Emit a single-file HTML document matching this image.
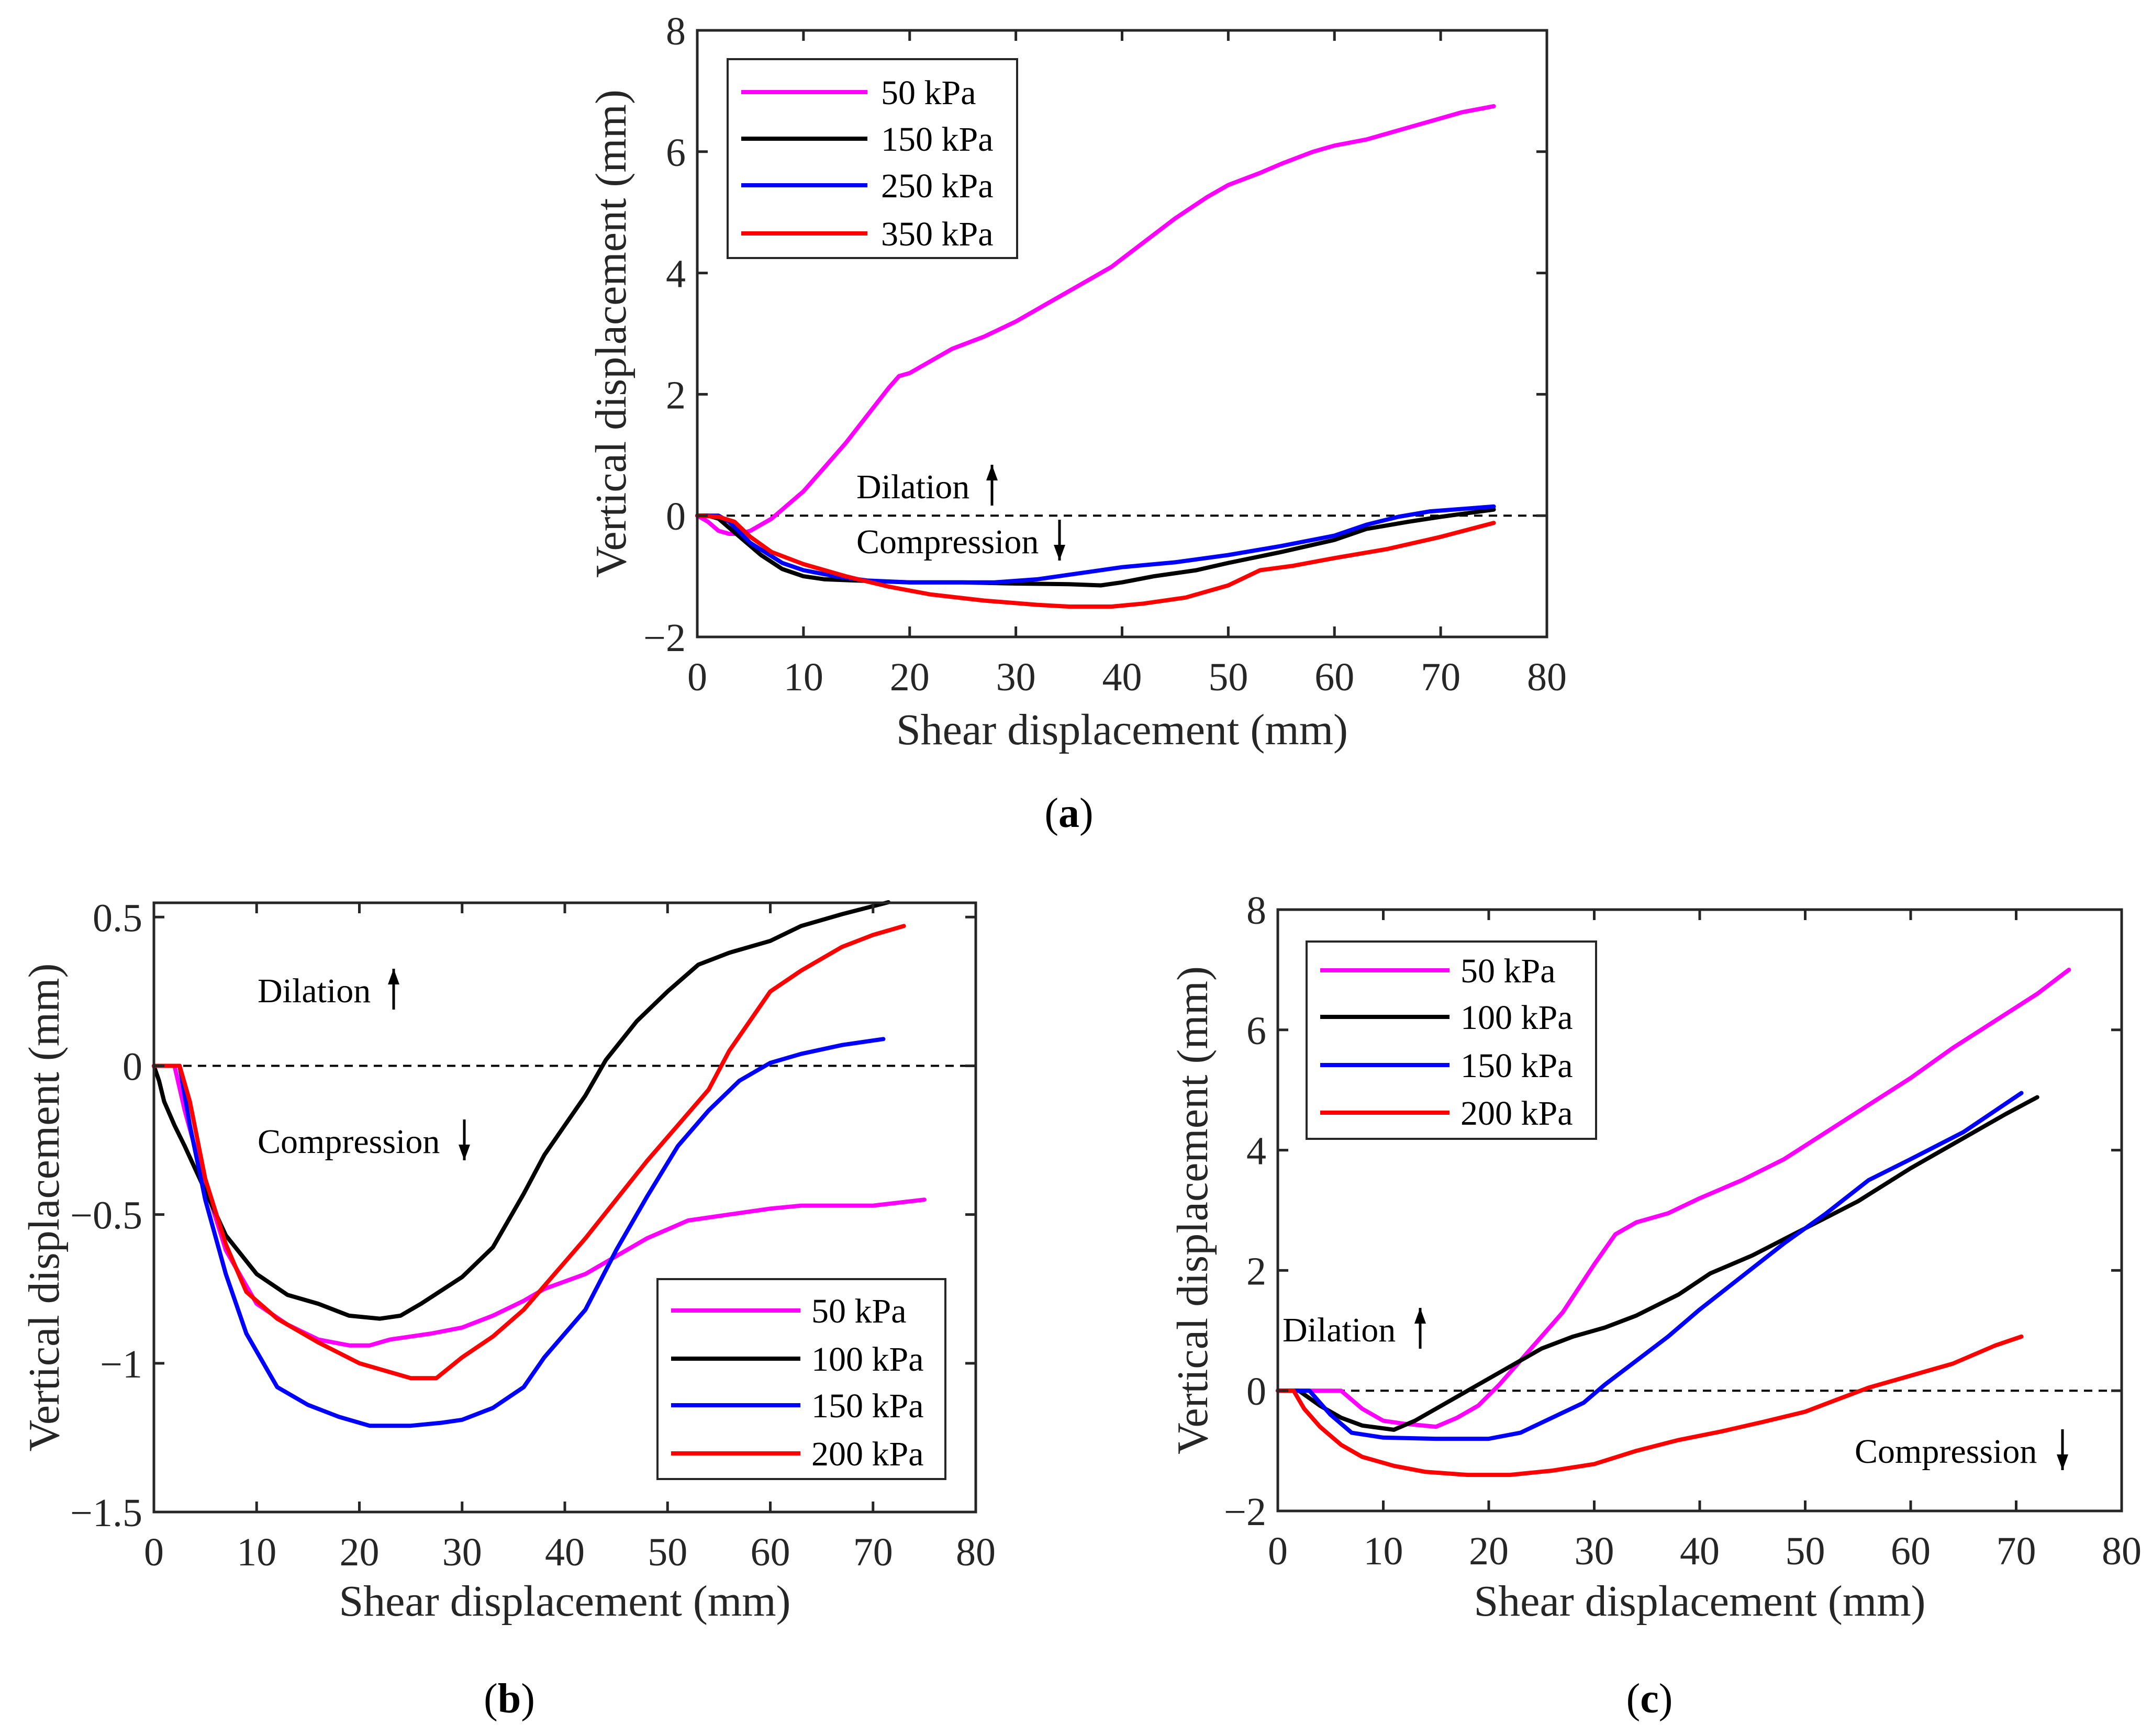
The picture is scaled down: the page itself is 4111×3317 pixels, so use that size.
<!DOCTYPE html>
<html><head><meta charset="utf-8"><style>
html,body{margin:0;padding:0;background:#fff;}
svg{display:block;font-family:"Liberation Serif",serif;}
</style></head><body>
<svg id="fig" width="4111" height="3317" viewBox="0 0 4111 3317" xmlns="http://www.w3.org/2000/svg">
<rect width="4111" height="3317" fill="#fff"/>
</svg>
<script>
// ---------- Panel (a) data ----------
const aX50 = [0,1,2,3,4,5,6,7,8,10,12,14,16,18,19,20,22,24,27,30,33,36,39,42,45,48,50,53,55,58,60,63,66,70,72,75];
const aY50 = [0,-0.1,-0.25,-0.3,-0.3,-0.25,-0.15,-0.05,0.1,0.4,0.8,1.2,1.65,2.1,2.3,2.35,2.55,2.75,2.95,3.2,3.5,3.8,4.1,4.5,4.9,5.25,5.45,5.65,5.8,6.0,6.1,6.2,6.35,6.55,6.65,6.75];
const aX150 = [0,1,2,4,6,8,10,12,15,20,25,30,35,38,40,43,47,50,55,60,63,67,70,75];
const aY150 = [0,0,-0.05,-0.35,-0.65,-0.88,-1.0,-1.05,-1.07,-1.1,-1.1,-1.12,-1.13,-1.15,-1.1,-1.0,-0.9,-0.78,-0.6,-0.4,-0.22,-0.1,-0.02,0.1];
const aX250 = [0,2,3,5,8,10,13,16,20,25,28,32,36,40,45,50,55,60,63,66,69,75];
const aY250 = [0,0,-0.1,-0.45,-0.78,-0.9,-1.0,-1.07,-1.1,-1.1,-1.1,-1.05,-0.95,-0.85,-0.77,-0.65,-0.5,-0.33,-0.15,-0.02,0.07,0.15];
const aX350 = [0,2,3.5,5,7,10,14,18,22,27,32,35,39,42,46,50,53,56,60,65,70,75];
const aY350 = [0,-0.02,-0.1,-0.35,-0.6,-0.8,-1.0,-1.17,-1.3,-1.4,-1.47,-1.5,-1.5,-1.45,-1.35,-1.15,-0.9,-0.83,-0.7,-0.55,-0.35,-0.12];
const aLegend = ["50 kPa","150 kPa","250 kPa","350 kPa"];
const aXTicks = [0,10,20,30,40,50,60,70,80];
const aYTicks = [-2,0,2,4,6,8];
const aYTickLabels = ["\u22122","0","2","4","6","8"];

// ---------- Panel (b) data ----------
const bX50 = [0,2,3,5,7,10,13,16,19,21,23,27,30,33,36,38,42,45,48,52,56,60,63,70,75];
const bY50 = [0,0,-0.15,-0.4,-0.62,-0.8,-0.87,-0.92,-0.94,-0.94,-0.92,-0.9,-0.88,-0.84,-0.79,-0.75,-0.7,-0.64,-0.58,-0.52,-0.5,-0.48,-0.47,-0.47,-0.45];
const bX100 = [0,0.5,1,2,3,5,7,10,13,16,19,22,24,26,30,33,36,38,40,42,44,47,50,53,56,60,63,67,71.5];
const bY100 = [0,-0.05,-0.12,-0.2,-0.27,-0.42,-0.57,-0.7,-0.77,-0.8,-0.84,-0.85,-0.84,-0.8,-0.71,-0.61,-0.43,-0.3,-0.2,-0.1,0.02,0.15,0.25,0.34,0.38,0.42,0.47,0.51,0.55];
const bX150 = [0,2.5,3.5,5,7,9,12,15,18,21,25,28,30,33,36,38,42,45,48,51,54,57,60,63,67,71];
const bY150 = [0,0,-0.2,-0.45,-0.7,-0.9,-1.08,-1.14,-1.18,-1.21,-1.21,-1.2,-1.19,-1.15,-1.08,-0.98,-0.82,-0.62,-0.44,-0.27,-0.15,-0.05,0.01,0.04,0.07,0.09];
const bX200 = [0,2.5,3.5,5,7,9,12,16,20,23,25,27.5,30,33,36,39,42,45,48,51,54,56,58,60,63,67,70,73];
const bY200 = [0,0,-0.12,-0.38,-0.6,-0.76,-0.85,-0.93,-1.0,-1.03,-1.05,-1.05,-0.98,-0.91,-0.82,-0.7,-0.58,-0.45,-0.32,-0.2,-0.08,0.05,0.15,0.25,0.32,0.4,0.44,0.47];
const bLegend = ["50 kPa","100 kPa","150 kPa","200 kPa"];
const bXTicks = [0,10,20,30,40,50,60,70,80];
const bYTicks = [-1.5,-1,-0.5,0,0.5];
const bYTickLabels = ["\u22121.5","\u22121","\u22120.5","0","0.5"];

// ---------- Panel (c) data ----------
const cX50 = [0,6,8,10,12,15,17,19,21,24,27,30,32,34,37,40,44,48,52,56,60,64,68,72,75];
const cY50 = [0,0,-0.3,-0.5,-0.55,-0.6,-0.45,-0.25,0.1,0.7,1.3,2.1,2.6,2.8,2.95,3.2,3.5,3.85,4.3,4.75,5.2,5.7,6.15,6.6,7.0];
const cX100 = [0,2,4,6,8,11,13,16,19,22,25,28,31,34,38,41,45,50,55,60,65,69,72];
const cY100 = [0,0,-0.25,-0.45,-0.58,-0.65,-0.5,-0.2,0.1,0.4,0.7,0.9,1.05,1.25,1.6,1.95,2.25,2.7,3.15,3.7,4.2,4.6,4.88];
const cX150 = [0,3,5,7,10,15,20,23,26,29,31,34,37,40,44,48,52,56,60,65,70.5];
const cY150 = [0,0,-0.4,-0.7,-0.78,-0.8,-0.8,-0.7,-0.45,-0.2,0.1,0.5,0.9,1.35,1.9,2.45,2.95,3.5,3.85,4.3,4.95];
const cX200 = [0,1.5,2.5,4,6,8,11,14,18,22,26,30,34,38,42,46,50,53,56,60,64,68,70.5];
const cY200 = [0,0,-0.3,-0.6,-0.9,-1.1,-1.25,-1.35,-1.4,-1.4,-1.33,-1.22,-1.0,-0.82,-0.68,-0.52,-0.35,-0.15,0.05,0.25,0.45,0.75,0.9];
const cLegend = ["50 kPa","100 kPa","150 kPa","200 kPa"];
const cXTicks = [0,10,20,30,40,50,60,70,80];
const cYTicks = [-2,0,2,4,6,8];
const cYTickLabels = ["\u22122","0","2","4","6","8"];

const NS = "http://www.w3.org/2000/svg";
const svg = document.getElementById("fig");
function mk(tag, attrs, parent){
  const e = document.createElementNS(NS, tag);
  for (const k in attrs) e.setAttribute(k, attrs[k]);
  (parent||svg).appendChild(e);
  return e;
}
const MAG="#ff00ff", BLK="#000000", BLU="#0000ff", RED="#ff0000";

function panel(cfg){
  const g = mk("g", {});
  
  
  const L=cfg.L,R=cfg.R,T=cfg.T,B=cfg.B;
  const sx = v => L + (v-cfg.xmin)/(cfg.xmax-cfg.xmin)*(R-L);
  const sy = v => B - (v-cfg.ymin)/(cfg.ymax-cfg.ymin)*(B-T);
  const z = mk("line",{x1:L,x2:R,y1:sy(0),y2:sy(0),stroke:"#000","stroke-width":4,"stroke-dasharray":"16 12"},g);
  
  
  cfg.series.forEach((s,i)=>{
    const d = s.x.map((xv,j)=>(j?"L":"M")+sx(xv).toFixed(1)+" "+sy(s.y[j]).toFixed(1)).join(" ");
    const p = mk("path",{d:d,fill:"none",stroke:s.c,"stroke-width":8,"stroke-linejoin":"round","stroke-linecap":"round"},g);
    
    
  });
  const fr = mk("rect",{x:L,y:T,width:R-L,height:B-T,fill:"none",stroke:"#262626","stroke-width":5},g);
  
  
  cfg.xticks.forEach(t=>{
    const x = sx(t);
    mk("line",{x1:x,x2:x,y1:B,y2:B-20,stroke:"#262626","stroke-width":5},g);
    mk("line",{x1:x,x2:x,y1:T,y2:T+20,stroke:"#262626","stroke-width":5},g);
    const tx = mk("text",{x:x,y:B+102,"font-size":76,"text-anchor":"middle",fill:"#262626"},g);
    tx.textContent = String(t);
    
    
  });
  cfg.yticks.forEach((t,i)=>{
    const y = sy(t);
    mk("line",{x1:L,x2:L+20,y1:y,y2:y,stroke:"#262626","stroke-width":5},g);
    mk("line",{x1:R,x2:R-20,y1:y,y2:y,stroke:"#262626","stroke-width":5},g);
    const ty = mk("text",{x:L-22,y:y+27,"font-size":76,"text-anchor":"end",fill:"#262626"},g);
    ty.textContent = cfg.ylabels[i];
    
    
  });
  const xt = mk("text",{x:(L+R)/2,y:cfg.xtY,"font-size":84,"text-anchor":"middle",fill:"#262626"},g);
  xt.textContent = "Shear displacement (mm)";
  
  
  const yt = mk("text",{x:0,y:0,"font-size":84,"text-anchor":"middle",fill:"#262626",transform:"translate("+cfg.ytX+","+((T+B)/2)+") rotate(-90)"},g);
  yt.textContent = "Vertical displacement (mm)";
  
  
  const lg = cfg.leg;
  const lr = mk("rect",{x:lg.x,y:lg.y,width:lg.w,height:lg.h,fill:"#fff",stroke:"#262626","stroke-width":4},g);
  
  
  cfg.series.forEach((s,i)=>{
    const yy = lg.rows[i];
    const ll = mk("line",{x1:lg.l1,x2:lg.l2,y1:yy,y2:yy,stroke:s.c,"stroke-width":8},g);
    
    
    const lt = mk("text",{x:lg.tx,y:yy+23,"font-size":66,fill:"#000"},g);
    lt.textContent = s.label;
    
    
  });
  cfg.ann.forEach(a=>{
    const t = mk("text",{x:a.x,y:a.y,"font-size":66,fill:"#000"},g);
    t.textContent = a.t;
    
    
    const ax = a.ax, up = a.up;
    const y1 = a.y-64, y2 = a.y+14;
    mk("line",{x1:ax,x2:ax,y1:y1,y2:y2,stroke:"#000","stroke-width":5},g);
    const tip = up ? y1 : y2;
    const dir = up ? 1 : -1;
    mk("polygon",{points:`${ax-11},${tip+dir*30} ${ax+11},${tip+dir*30} ${ax},${tip}`,fill:"#000"},g);
  });
  const pl = mk("text",{x:cfg.pl[0],y:cfg.pl[1],"font-size":80,"text-anchor":"middle",fill:"#000"},g);
  pl.innerHTML = '(<tspan font-weight="bold">'+cfg.plt+'</tspan>)';
  
  
}

panel({name:"chart-a",L:1332,R:2955,T:58,B:1217,xmin:0,xmax:80,ymin:-2,ymax:8,
  xticks:aXTicks,yticks:aYTicks,ylabels:aYTickLabels,xtY:1422,ytX:1195,
  series:[{x:aX50,y:aY50,c:MAG,label:aLegend[0]},{x:aX150,y:aY150,c:BLK,label:aLegend[1]},{x:aX250,y:aY250,c:BLU,label:aLegend[2]},{x:aX350,y:aY350,c:RED,label:aLegend[3]}],
  leg:{x:1390,y:113,w:553,h:380,l1:1416,l2:1657,tx:1683,rows:[176,265,354,446]},
  ann:[{t:"Dilation",x:1636,y:952,ax:1895,up:true},{t:"Compression",x:1636,y:1057,ax:2024,up:false}],
  pl:[2042,1580],plt:"a"});

panel({name:"chart-b",L:294,R:1864,T:1725,B:2889,xmin:0,xmax:80,ymin:-1.5,ymax:0.548,
  xticks:bXTicks,yticks:bYTicks,ylabels:bYTickLabels,xtY:3087,ytX:112,
  series:[{x:bX50,y:bY50,c:MAG,label:bLegend[0]},{x:bX100,y:bY100,c:BLK,label:bLegend[1]},{x:bX150,y:bY150,c:BLU,label:bLegend[2]},{x:bX200,y:bY200,c:RED,label:bLegend[3]}],
  leg:{x:1256,y:2444,w:550,h:382,l1:1282,l2:1529,tx:1550,rows:[2504,2596,2685,2777]},
  ann:[{t:"Dilation",x:492,y:1915,ax:752,up:true},{t:"Compression",x:492,y:2203,ax:887,up:false}],
  pl:[973,3272],plt:"b"});

panel({name:"chart-c",L:2441,R:4053,T:1738,B:2887,xmin:0,xmax:80,ymin:-2,ymax:8,
  xticks:cXTicks,yticks:cYTicks,ylabels:cYTickLabels,xtY:3087,ytX:2306,
  series:[{x:cX50,y:cY50,c:MAG,label:cLegend[0]},{x:cX100,y:cY100,c:BLK,label:cLegend[1]},{x:cX150,y:cY150,c:BLU,label:cLegend[2]},{x:cX200,y:cY200,c:RED,label:cLegend[3]}],
  leg:{x:2496,y:1799,w:553,h:377,l1:2522,l2:2769,tx:2790,rows:[1854,1943,2035,2126]},
  ann:[{t:"Dilation",x:2450,y:2563,ax:2713,up:true},{t:"Compression",x:3543,y:2795,ax:3940,up:false}],
  pl:[3151,3272],plt:"c"});
</script>
</body></html>
